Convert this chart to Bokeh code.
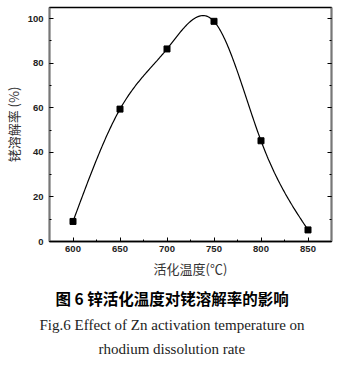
import numpy as np
from bokeh.plotting import figure
from bokeh.models import LinearAxis, Range1d, SingleIntervalTicker, CustomJSTickFormatter, Title
from bokeh.embed import file_html
from bokeh.resources import INLINE

temps = [600, 650, 700, 750, 800, 850]
rates = [9.0, 59.4, 86.4, 98.8, 45.2, 5.2]
x_ticks = [600, 650, 700, 750, 800, 850]
y_ticks = [0, 20, 40, 60, 80, 100]
x_label = "活化温度(℃)"
y_label = "铑溶解率 (%)"
cap_cn = "图 6  锌活化温度对铑溶解率的影响"
cap_en1 = "Fig.6 Effect of Zn activation temperature on"
cap_en2 = "rhodium dissolution rate"


def natural_spline(xs, ys, n=300):
    xs = np.asarray(xs, float)
    ys = np.asarray(ys, float)
    k = len(xs)
    h = np.diff(xs)
    A = np.zeros((k, k))
    b = np.zeros(k)
    A[0, 0] = 1
    A[-1, -1] = 1
    for i in range(1, k - 1):
        A[i, i - 1] = h[i - 1]
        A[i, i] = 2 * (h[i - 1] + h[i])
        A[i, i + 1] = h[i]
        b[i] = 6 * ((ys[i + 1] - ys[i]) / h[i] - (ys[i] - ys[i - 1]) / h[i - 1])
    M = np.linalg.solve(A, b)
    xx = np.linspace(xs[0], xs[-1], n)
    yy = np.empty_like(xx)
    for j, x in enumerate(xx):
        i = min(np.searchsorted(xs, x, side="right") - 1, k - 2)
        t0 = xs[i + 1] - x
        t1 = x - xs[i]
        yy[j] = (M[i] * t0 ** 3 + M[i + 1] * t1 ** 3) / (6 * h[i]) \
            + (ys[i] / h[i] - M[i] * h[i] / 6) * t0 \
            + (ys[i + 1] / h[i] - M[i + 1] * h[i] / 6) * t1
    return xx, yy


sx, sy = natural_spline(temps, rates)

p = figure(width=345, height=365, output_backend="svg", toolbar_location=None,
           x_range=Range1d(575, 875), y_range=Range1d(0, 105),
           min_border_left=44, min_border_right=14, min_border_top=7, min_border_bottom=124,
           background_fill_color="white", border_fill_color="white")
p.xgrid.visible = False
p.ygrid.visible = False
p.outline_line_color = "black"
p.outline_line_width = 1.5

p.line(sx, sy, line_color="black", line_width=1.2)
p.scatter(temps, rates, marker="square", size=6, fill_color="black", line_color="black")

xa = p.xaxis[0]
xa.ticker = SingleIntervalTicker(interval=50, num_minor_ticks=2)
xa.major_tick_in = 4
xa.major_tick_out = 0
xa.minor_tick_in = 2
xa.minor_tick_out = 0
xa.axis_line_color = "black"
xa.axis_line_width = 1.5
xa.major_label_standoff = 4
xa.major_label_text_font = "Liberation Sans"
xa.major_label_text_font_style = "bold"
xa.major_label_text_font_size = "9.5px"
xa.major_label_text_color = "#222222"
xa.axis_label = x_label
xa.axis_label_text_font = "Noto Sans CJK SC"
xa.axis_label_text_font_style = "normal"
xa.axis_label_text_font_size = "13px"
xa.axis_label_text_color = "#333333"
xa.axis_label_standoff = 4

ya = p.yaxis[0]
ya.ticker = SingleIntervalTicker(interval=20, num_minor_ticks=2)
ya.major_tick_in = 4
ya.major_tick_out = 0
ya.minor_tick_in = 2
ya.minor_tick_out = 0
ya.axis_line_color = "#777777"
ya.axis_line_width = 1.5
ya.major_label_standoff = 6
ya.major_label_text_font = "Liberation Sans"
ya.major_label_text_font_style = "bold"
ya.major_label_text_font_size = "9.5px"
ya.major_label_text_color = "#222222"
ya.axis_label = y_label
ya.axis_label_text_font = "Noto Sans CJK SC"
ya.axis_label_text_font_style = "normal"
ya.axis_label_text_font_size = "13px"
ya.axis_label_text_color = "#333333"
ya.axis_label_standoff = 2

ra = LinearAxis(ticker=SingleIntervalTicker(interval=20, num_minor_ticks=2),
                formatter=CustomJSTickFormatter(code="return ''"))
ra.major_tick_in = 4
ra.major_tick_out = 0
ra.minor_tick_in = 2
ra.minor_tick_out = 0
ra.axis_line_color = "#777777"
ra.axis_line_width = 1.5
ra.major_label_standoff = 0
p.add_layout(ra, "right")

t1 = Title(text=cap_cn, align="left", offset=6, standoff=8,
           text_font="Noto Sans CJK SC", text_font_style="bold",
           text_font_size="15.5px", text_color="black")
t2 = Title(text=cap_en1, align="left", offset=-10, standoff=4,
           text_font="Liberation Serif", text_font_style="normal",
           text_font_size="15px", text_color="#222222")
t3 = Title(text=cap_en2, align="left", offset=49, standoff=9,
           text_font="Liberation Serif", text_font_style="normal",
           text_font_size="15px", text_color="#222222")
p.add_layout(t1, "below")
p.add_layout(t2, "below")
p.add_layout(t3, "below")

open("out.html", "w").write(file_html(p, INLINE))
